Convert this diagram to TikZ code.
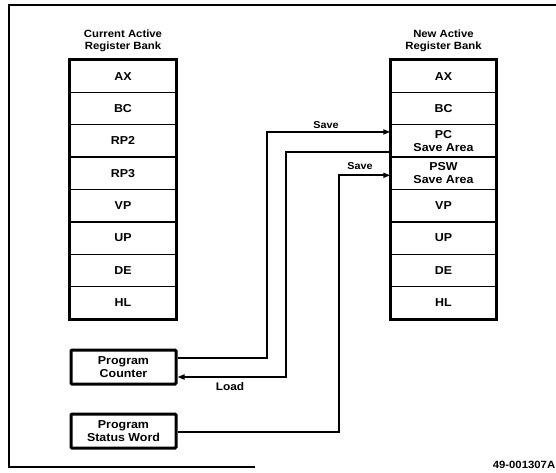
\documentclass[tikz,border=0pt]{standalone}
\usepackage{fontspec}
\setmainfont{Liberation Sans}[FakeStretch=1.08]
\usetikzlibrary{arrows.meta}
\tikzset{
  reg/.style={draw, line width=1.5pt, minimum height=32.375pt, inner sep=0pt, align=center,
     font=\bfseries\fontsize{11.5}{13}\selectfont},
  lreg/.style={reg, minimum width=106pt},
  rreg/.style={reg, minimum width=105pt},
  outer/.style={line width=3pt},
  cbox/.style={draw, line width=3pt, minimum width=105pt, minimum height=34pt, inner sep=0pt,
     align=center, rounded corners=1pt, font=\bfseries\fontsize{11.5}{13}\selectfont},
  head/.style={align=center, inner sep=0pt, font=\bfseries\fontsize{10.5}{12}\selectfont},
  lbl/.style={inner sep=0pt, font=\bfseries\fontsize{10}{12}\selectfont},
  conn/.style={line width=2pt},
  arr/.style={conn, -{Triangle[length=7pt,width=5pt]}},
  frame/.style={line width=2pt}
}
\begin{document}
\begin{tikzpicture}[x=1pt,y=-1pt]
\useasboundingbox (0,0) rectangle (556,473);
\draw[frame] (556,5) -- (8.5,5) -- (8.5,467) -- (255,467);
% left bank
\node[head] (lh) at (123,41) {Current Active\\Register Bank};
\foreach \t [count=\i] in {AX,BC,RP2,RP3,VP,UP,DE,HL}
  \node[lreg] (l\i) at (123,{60+(\i-0.5)*32.375}) {\t};
\draw[outer] (l1.north west) rectangle (l8.south east);
% right bank
\node[head] (rh) at (443.5,41) {New Active\\Register Bank};
\node[rreg] (r1) at (443.5,{60+0.5*32.375}) {AX};
\node[rreg] (r2) at (443.5,{60+1.5*32.375}) {BC};
\node[rreg] (r3) at (443.5,{60+2.5*32.375}) {PC\\Save Area};
\node[rreg] (r4) at (443.5,{60+3.5*32.375}) {PSW\\Save Area};
\node[rreg] (r5) at (443.5,{60+4.5*32.375}) {VP};
\node[rreg] (r6) at (443.5,{60+5.5*32.375}) {UP};
\node[rreg] (r7) at (443.5,{60+6.5*32.375}) {DE};
\node[rreg] (r8) at (443.5,{60+7.5*32.375}) {HL};
\draw[outer] (r1.north west) rectangle (r8.south east);
% program counter / status word
\node[cbox] (pc) at (123.5,367) {Program\\Counter};
\node[cbox] (psw) at (123.5,431) {Program\\Status Word};
% connectors
\draw[arr] ([yshift=9pt]pc.east) -- ++(89,0) |- ([yshift=9pt]r3.west);
\draw[arr] ([yshift=-11pt]r3.west) -- ++(-104,0) |- ([yshift=-10pt]pc.east);
\draw[arr] ([yshift=-1pt]psw.east) -- ++(161,0) |- ([yshift=-2pt]r4.west);
% labels
\node[lbl] (s1) at (326,125) {Save};
\node[lbl] (s2) at (360,166) {Save};
\node[lbl, font=\bfseries\fontsize{11}{12}\selectfont] (ld) at (230,387) {Load};
\node[lbl, font=\bfseries\fontsize{10.5}{12}\selectfont] (id) at (524,465) {49-001307A};
\end{tikzpicture}
\end{document}
